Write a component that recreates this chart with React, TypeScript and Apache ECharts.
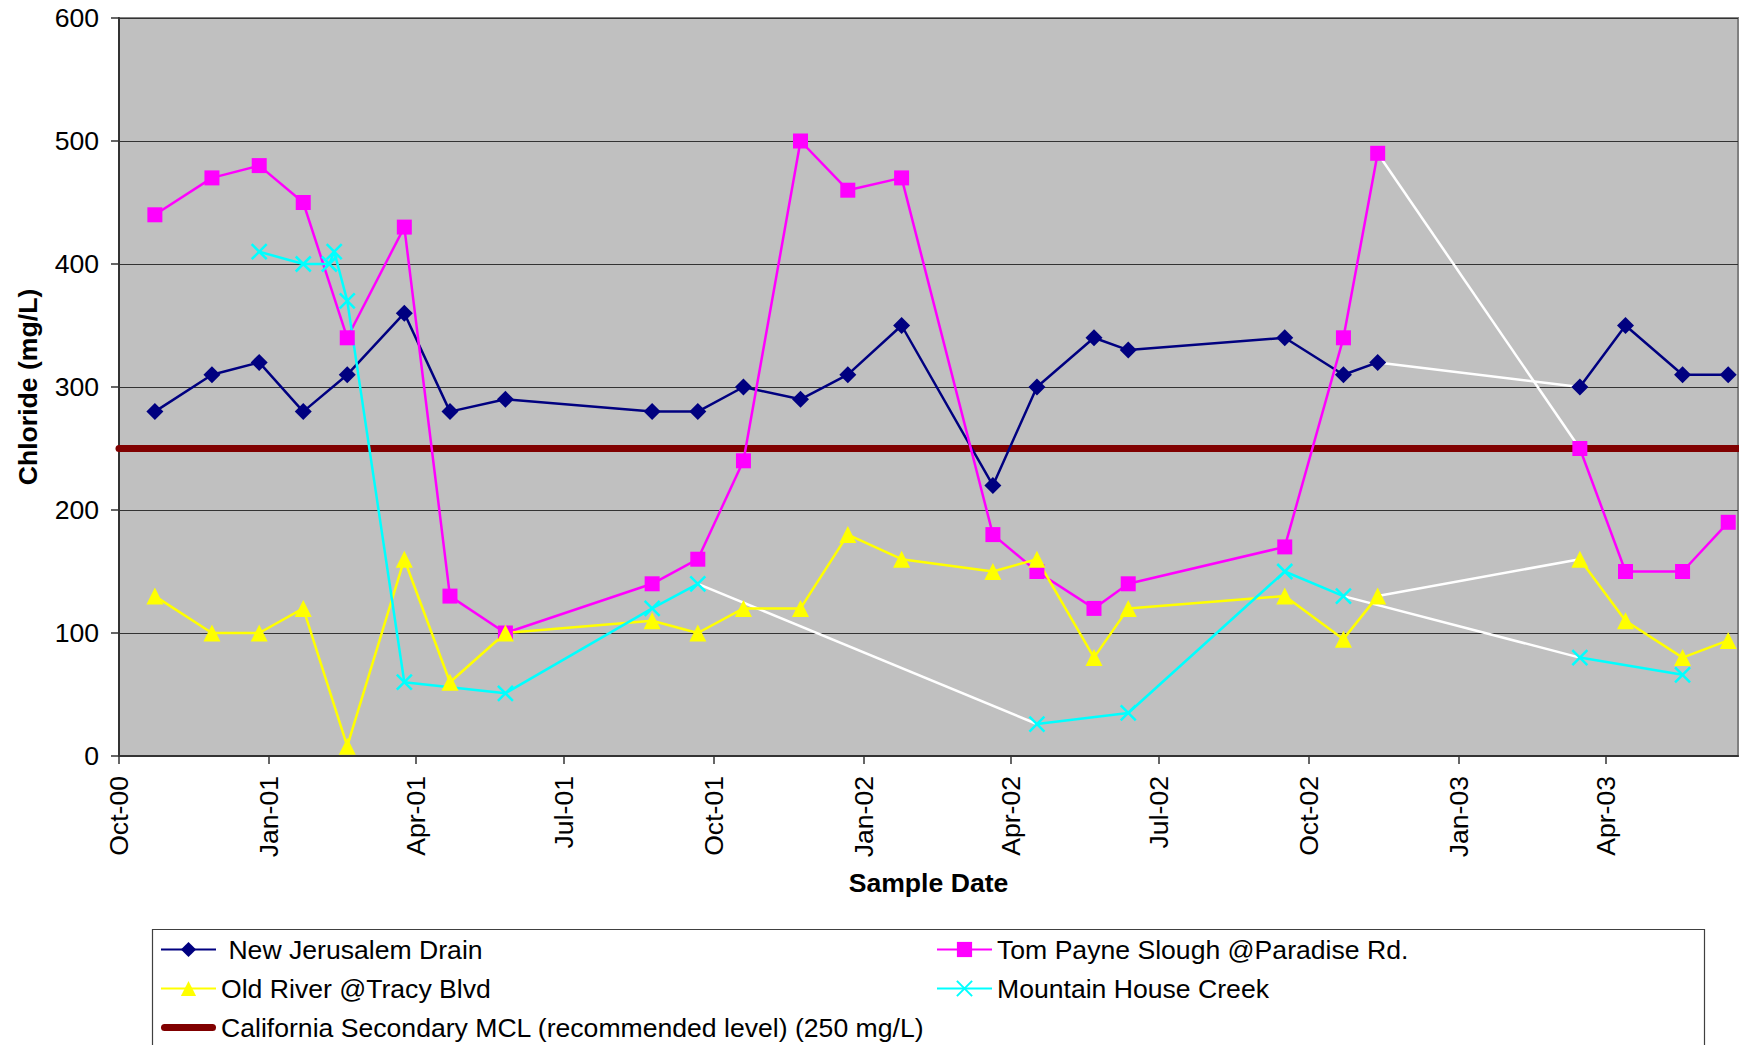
import React, { useEffect, useRef } from 'react';
import * as echarts from 'echarts';

// ---------------- data ----------------
const sampleDates = [
  '2000-10-23', '2000-11-27', '2000-12-26', '2001-01-22', '2001-02-18', '2001-03-25',
  '2001-04-22', '2001-05-26', '2001-08-24', '2001-09-21', '2001-10-19', '2001-11-23',
  '2001-12-22', '2002-01-24', '2002-03-21', '2002-04-17', '2002-05-22', '2002-06-12',
  '2002-09-16', '2002-10-22', '2002-11-12', '2003-03-16', '2003-04-13', '2003-05-18',
  '2003-06-15',
];
const newJerusalemDrain = [280, 310, 320, 280, 310, 360, 280, 290, 280, 280, 300, 290, 310, 350, 220, 300, 340, 330, 340, 310, 320, 300, 350, 310, 310];
const tomPayneSlough = [440, 470, 480, 450, 340, 430, 130, 100, 140, 160, 240, 500, 460, 470, 180, 150, 120, 140, 170, 340, 490, 250, 150, 150, 190];
const oldRiverTracy = [130, 100, 100, 120, 8, 160, 60, 100, 110, 100, 120, 120, 180, 160, 150, 160, 80, 120, 130, 95, 130, 160, 110, 80, 94];

const mountainHouseDates = [
  '2000-12-26', '2001-01-22', '2001-02-07', '2001-02-10', '2001-02-18', '2001-03-25',
  '2001-05-26', '2001-08-24', '2001-09-21', '2002-04-17', '2002-06-12', '2002-09-16',
  '2002-10-22', '2003-03-16', '2003-05-18',
];
const mountainHouseCreek = [410, 400, 400, 410, 370, 60, 51, 120, 140, 26, 35, 150, 130, 80, 66];

// segments (index i -> i+1) that are drawn in white in the original
const njWhiteSegments = [20];
const tpWhiteSegments = [20];
const orWhiteSegments = [20];
const mhWhiteSegments = [8, 12];

const mclValue = 250;
const quarterTicks = [
  '2000-10-01', '2001-01-01', '2001-04-01', '2001-07-01', '2001-10-01', '2002-01-01',
  '2002-04-01', '2002-07-01', '2002-10-01', '2003-01-01', '2003-04-01',
];
const xMinDate = '2000-10-01';
const xMaxDate = '2003-06-21';
const yTicks = [0, 100, 200, 300, 400, 500, 600];

const NAME_NJ = 'New Jerusalem Drain';
const NAME_TP = 'Tom Payne Slough @Paradise Rd.';
const NAME_OR = 'Old River @Tracy Blvd';
const NAME_MH = 'Mountain House Creek';
const NAME_MCL = 'California Secondary MCL (recommended level) (250 mg/L)';

// ---------------- helpers ----------------
const MONTHS = ['Jan', 'Feb', 'Mar', 'Apr', 'May', 'Jun', 'Jul', 'Aug', 'Sep', 'Oct', 'Nov', 'Dec'];
const ts = (s: string) => {
  const [y, m, d] = s.split('-').map(Number);
  return Date.UTC(y, m - 1, d);
};
const fmtQuarter = (v: number) => {
  const d = new Date(v);
  const yy = String(d.getUTCFullYear() % 100).padStart(2, '0');
  return `${MONTHS[d.getUTCMonth()]}-${yy}`;
};

const FONT = 'Liberation Sans, Arial, Helvetica, sans-serif';
const FS = 26.6;
const LW = 2.5;

function buildSeries(
  name: string,
  dates: string[],
  values: number[],
  white: number[],
  color: string,
  symbol: string,
  symbolSize: number,
  itemStyleExtra: any = {},
) {
  const pts = dates.map((d, i) => [ts(d), values[i]]);
  const out: any[] = [];
  white.forEach((i, k) => {
    out.push({
      type: 'line',
      name: `${name} gap ${k}`,
      data: [pts[i], pts[i + 1]],
      symbol: 'none',
      lineStyle: { color: '#FFFFFF', width: LW },
      itemStyle: { color: '#FFFFFF' },
      silent: true,
      z: 2,
    });
  });
  let start = 0;
  const cuts = [...white].sort((a, b) => a - b);
  const runs: number[][][] = [];
  cuts.forEach((c) => {
    runs.push(pts.slice(start, c + 1));
    start = c + 1;
  });
  runs.push(pts.slice(start));
  runs.forEach((run) => {
    out.push({
      type: 'line',
      name,
      data: run,
      symbol,
      symbolSize,
      color,
      lineStyle: { color, width: LW },
      itemStyle: { color, ...itemStyleExtra },
      z: 3,
    });
  });
  return out;
}

export default function App() {
  const ref = useRef<HTMLDivElement>(null);

  useEffect(() => {
    if (!ref.current) return;
    const chart = echarts.init(ref.current, null, { renderer: 'svg' });

    const series = [
      {
        type: 'line',
        name: NAME_MCL,
        data: [
          [ts(xMinDate), mclValue],
          [ts(xMaxDate), mclValue],
        ],
        symbol: 'none',
        color: '#800000',
        lineStyle: { color: '#800000', width: 7, cap: 'round' },
        itemStyle: { color: '#800000' },
        clip: false,
        z: 1,
      },
      ...buildSeries(NAME_NJ, sampleDates, newJerusalemDrain, njWhiteSegments, '#000080', 'diamond', 17),
      ...buildSeries(NAME_TP, sampleDates, tomPayneSlough, tpWhiteSegments, '#FF00FF', 'rect', 15),
      ...buildSeries(NAME_OR, sampleDates, oldRiverTracy, orWhiteSegments, '#FFFF00', 'triangle', 17),
      ...buildSeries(
        NAME_MH,
        mountainHouseDates,
        mountainHouseCreek,
        mhWhiteSegments,
        '#00FFFF',
        'path://M0,0L10,10M10,0L0,10',
        15,
        { borderColor: '#00FFFF', borderWidth: LW },
      ),
    ];

    const legendCommon = {
      orient: 'vertical',
      itemWidth: 55,
      itemHeight: 19,
      itemGap: 12,
      selectedMode: false,
      padding: 0,
      textStyle: { fontFamily: FONT, fontSize: FS, color: '#000', lineHeight: 26 },
    };

    const quarterValues = quarterTicks.map(ts);

    chart.setOption({
      animation: false,
      backgroundColor: '#FFFFFF',
      textStyle: { fontFamily: FONT },
      grid: {
        left: 119,
        top: 18,
        right: 1,
        bottom: 289,
        show: true,
        backgroundColor: '#C0C0C0',
        borderColor: '#808080',
        borderWidth: 2,
      },
      legend: [
        {
          ...legendCommon,
          left: 160,
          top: 936,
          data: [
            NAME_NJ,
            NAME_OR,
            {
              name: NAME_MCL,
              icon: 'path://M3.5,0H51.5A3.5,3.5,0,0,1,51.5,7H3.5A3.5,3.5,0,0,1,3.5,0Z',
            },
          ],
          formatter: (n: string) => (n === NAME_NJ ? '\u00a0' + n : n),
        },
        {
          ...legendCommon,
          left: 936,
          top: 936,
          data: [NAME_TP, NAME_MH],
        },
      ],
      graphic: [
        {
          type: 'rect',
          shape: { x: 152.5, y: 929.5, width: 1552, height: 200 },
          style: { fill: 'none', stroke: '#404040', lineWidth: 1.2 },
          silent: true,
          z: 0,
        },
      ],
      xAxis: {
        type: 'value',
        min: ts(xMinDate),
        max: ts(xMaxDate),
        name: 'Sample Date',
        nameLocation: 'middle',
        nameGap: 113,
        nameTextStyle: { fontFamily: FONT, fontSize: FS, fontWeight: 'bold', color: '#000' },
        axisLine: { show: true, onZero: false, lineStyle: { color: '#333333', width: 2 } },
        axisTick: {
          show: true,
          length: 8,
          inside: false,
          lineStyle: { color: '#333333', width: 1.5 },
          customValues: quarterValues,
        },
        axisLabel: {
          show: true,
          rotate: 90,
          margin: 20,
          fontFamily: FONT,
          fontSize: FS,
          color: '#000',
          customValues: quarterValues,
          formatter: (v: number) => fmtQuarter(v),
          hideOverlap: false,
        },
        splitLine: { show: false },
      },
      yAxis: {
        type: 'value',
        min: yTicks[0],
        max: yTicks[yTicks.length - 1],
        interval: 100,
        name: 'Chloride (mg/L)',
        nameLocation: 'middle',
        nameRotate: 90,
        nameGap: 78,
        nameTextStyle: { fontFamily: FONT, fontSize: FS, fontWeight: 'bold', color: '#000' },
        axisLine: { show: true, lineStyle: { color: '#333333', width: 2 } },
        axisTick: { show: true, length: 8, inside: false, lineStyle: { color: '#333333', width: 1.5 } },
        axisLabel: { margin: 20, fontFamily: FONT, fontSize: FS, color: '#000' },
        splitLine: { show: true, lineStyle: { color: '#333333', width: 1.2 } },
      },
      series,
    });

    return () => chart.dispose();
  }, []);

  return (
    <div
      ref={ref}
      style={{ position: 'absolute', left: 0, top: 0, width: 1739, height: 1045 }}
    />
  );
}
